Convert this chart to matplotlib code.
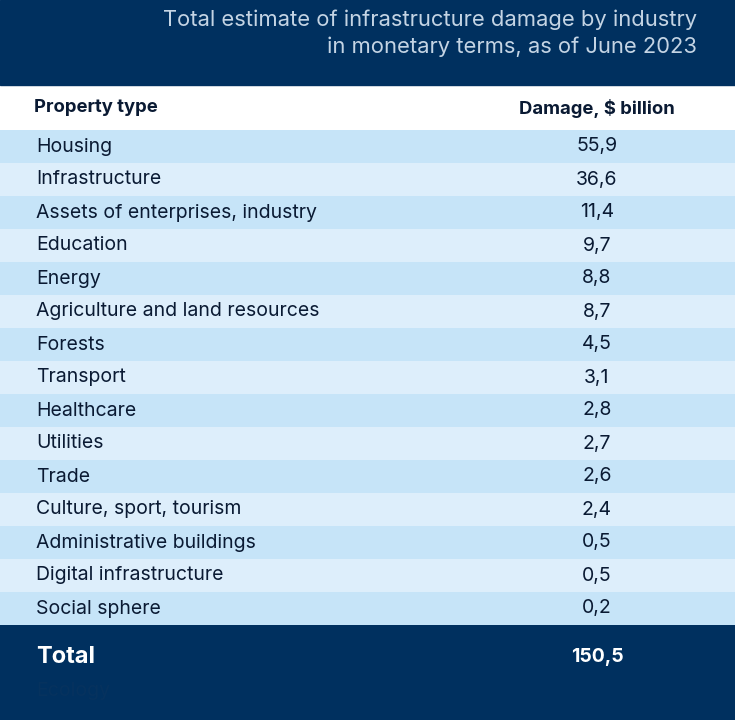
import matplotlib.pyplot as plt
from matplotlib.patches import Rectangle

plt.rcParams['font.family'] = ['Inter', 'DejaVu Sans']

title_lines = ["Total estimate of infrastructure damage by industry",
               "in monetary terms, as of June 2023"]
headers = ["Property type", "Damage, $ billion"]
categories = ["Housing", "Infrastructure", "Assets of enterprises, industry",
              "Education", "Energy", "Agriculture and land resources", "Forests",
              "Transport", "Healthcare", "Utilities", "Trade",
              "Culture, sport, tourism", "Administrative buildings",
              "Digital infrastructure", "Social sphere"]
values = ["55,9", "36,6", "11,4", "9,7", "8,8", "8,7", "4,5", "3,1", "2,8",
          "2,7", "2,6", "2,4", "0,5", "0,5", "0,2"]
total_label, total_value = "Total", "150,5"

navy = "#00305f"
row_a = "#c6e4f8"
row_b = "#ddeefb"

fig = plt.figure(figsize=(7.35, 7.2), dpi=100)
ax = fig.add_axes([0, 0, 1, 1])
ax.set_xlim(0, 735)
ax.set_ylim(720, 0)
ax.axis("off")

# title band
ax.add_patch(Rectangle((0, 0), 735, 85, color=navy))
ax.text(697, 20, title_lines[0], color="#c4d4e4", fontsize=15.8, ha="right", va="center")
ax.text(697, 47, title_lines[1], color="#c4d4e4", fontsize=15.8, ha="right", va="center")

# header
ax.text(34, 108, headers[0], fontsize=13.3, fontweight="bold", color="#0a1a33", va="center")
ax.text(597, 108, headers[1], fontsize=13.3, fontweight="bold", color="#0a1a33", va="center", ha="center")

row_top, row_h = 130, 33.0
for i, (cat, val) in enumerate(zip(categories, values)):
    y = row_top + i * row_h
    ax.add_patch(Rectangle((0, y), 735, row_h, color=row_a if i % 2 == 0 else row_b, lw=0))
    ax.text(36, y + row_h / 2, cat, fontsize=14, color="#0a1a33", va="center")
    ax.text(597, y + row_h / 2, val, fontsize=14, color="#0a1a33", va="center", ha="center")

# total band
ty = row_top + len(categories) * row_h
ax.add_patch(Rectangle((0, ty), 735, 720 - ty, color=navy, lw=0))
ax.text(36, 657, total_label, fontsize=17, fontweight="bold", color="white", va="center")
ax.text(597, 657, total_value, fontsize=14, fontweight="bold", color="white", va="center", ha="center")
ax.text(36, 691, "Ecology", fontsize=14, color="#06325e", va="center")

fig.savefig("out.png", dpi=100)
